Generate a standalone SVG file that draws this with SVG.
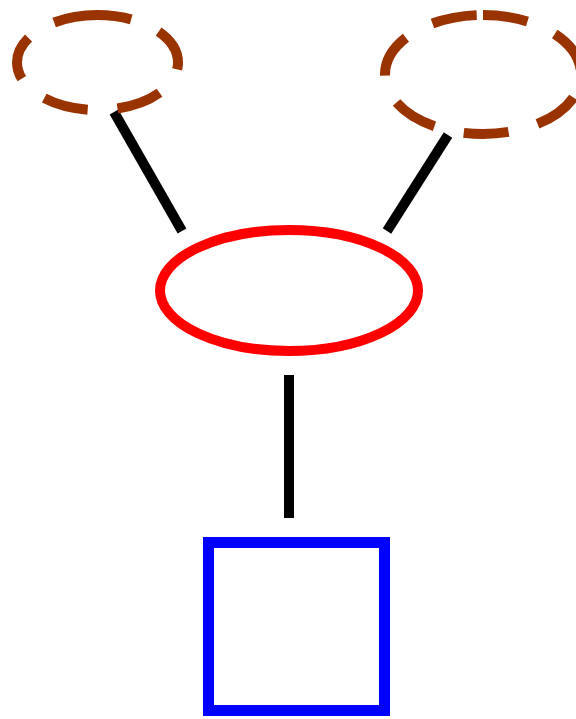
<svg xmlns="http://www.w3.org/2000/svg" width="576" height="719" viewBox="0 0 576 719">
<style>
.dashed{fill:none;stroke:#993300;stroke-width:10;stroke-dasharray:45 30}
.edge{stroke:#000;stroke-width:10;fill:none}
</style>
<rect width="576" height="719" fill="#fff"/>
<g id="connectors">
<line class="edge" x1="114" y1="112" x2="182" y2="231"/>
<line class="edge" x1="448" y1="135" x2="387" y2="231"/>
<line class="edge" x1="289" y1="375" x2="289" y2="518"/>
</g>
<g id="node-left">
<path class="dashed" stroke-dashoffset="11" d="M97.5,15 A80.5,47.5 0 0 1 97.5,110 A80.5,47.5 0 0 1 97.5,15"/>
</g>
<g id="node-right">
<path class="dashed" d="M483,15 A98,59.5 0 0 1 483,134 A98,59.5 0 0 1 483,15"/>
</g>
<g id="node-center">
<ellipse cx="289" cy="290.5" rx="129" ry="60.5" fill="none" stroke="#ff0000" stroke-width="10"/>
</g>
<g id="node-bottom">
<rect x="208.5" y="542.5" width="176" height="168" fill="none" stroke="#0000ff" stroke-width="11"/>
</g>
</svg>
